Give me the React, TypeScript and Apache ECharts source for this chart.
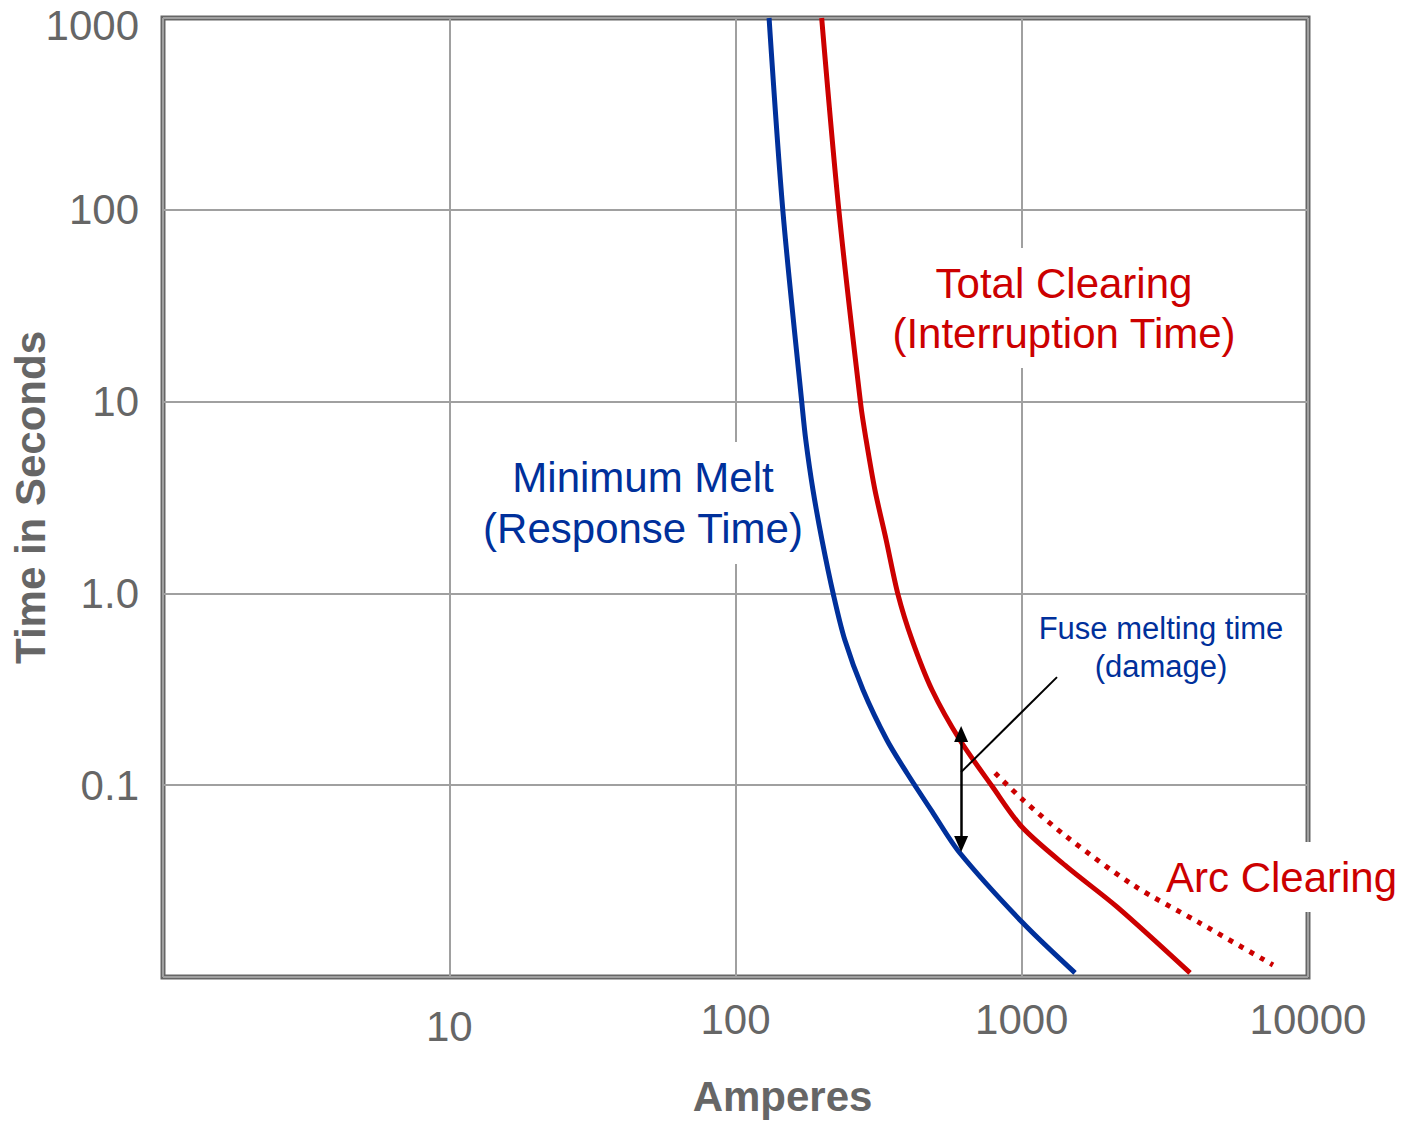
import React, { useEffect, useRef } from "react";
import * as echarts from "echarts";

// Minimum melt (response time) curve: current (A) and time (s)
const minMeltCurrent = [131, 146.5, 170.8, 176, 186.5, 200.5, 220, 241, 279, 338, 397, 490, 608, 1010, 1535];
const minMeltTime = [1000, 97.4, 9.6, 6.31, 3.46, 1.9, 0.98, 0.571, 0.3135, 0.172, 0.1158, 0.0716, 0.0443, 0.0191, 0.0105];

// Total clearing (interruption time) curve
const totalClearCurrent = [200, 230, 274, 286, 307, 336, 370, 414, 486, 608, 787, 1002, 1439, 2152, 3872];
const totalClearTime = [1000, 97.4, 9.6, 6.31, 3.46, 1.9, 0.98, 0.571, 0.3135, 0.172, 0.099, 0.0605, 0.0375, 0.0232, 0.0105];

// Arc clearing (dotted) curve
const arcCurrent = [807, 1010, 1439, 2447, 4195, 7546];
const arcTime = [0.1158, 0.0838, 0.0537, 0.0302, 0.0191, 0.01155];

// Fuse melting time (damage) arrow and leader
const damageArrowCurrent = [614, 614];
const damageArrowTime = [0.185, 0.0494];
const leaderCurrent = [614, 1328];
const leaderTime = [0.117, 0.366];

// Tick labels
const xTickLabels: Record<number, string> = { 0: "", 1: "10", 2: "100", 3: "1000", 4: "10000" };
const yTickLabels: Record<number, string> = { [-2]: "", [-1]: "0.1", 0: "1.0", 1: "10", 2: "100", 3: "1000" };

const RED = "#cc0000";
const BLUE = "#00309b";
const GREY = "#666666";
const GRIDLINE = "#a0a0a0";
const FONT = "'Liberation Sans', Arial, sans-serif";
const TICK_SIZE = 42;

const zip = (xs: number[], ys: number[]) => xs.map((x, i) => [x, ys[i]]);

export default function App() {
  const ref = useRef<HTMLDivElement>(null);
  useEffect(() => {
    if (!ref.current) return;
    const chart = echarts.init(ref.current, undefined, { renderer: "svg" });
    chart.setOption({
      animation: false,
      backgroundColor: "#fff",
      textStyle: { fontFamily: FONT },
      grid: {
        left: 163,
        right: 96,
        top: 18,
        bottom: 145,
        containLabel: false,
        outerBoundsMode: "none",
        show: true,
        borderColor: GREY,
        borderWidth: 5,
        backgroundColor: "transparent",
      },
      xAxis: {
        type: "log",
        logBase: 10,
        min: 1,
        max: 10000,
        splitNumber: 4,
        name: "Amperes",
        nameLocation: "middle",
        nameGap: 98,
        nameMoveOverlap: false,
        nameTextStyle: {
          color: GREY,
          fontSize: 42,
          fontWeight: "bold",
          fontFamily: FONT,
          padding: [0, 0, 0, 94],
        },
        axisLine: { show: false },
        axisTick: { show: false },
        splitLine: { show: true, lineStyle: { color: GRIDLINE, width: 2 } },
        axisLabel: {
          margin: 21,
          color: GREY,
          fontSize: TICK_SIZE,
          fontFamily: FONT,
          formatter: (v: number) => {
            const k = Math.round(Math.log10(v));
            const s = xTickLabels[k] ?? "";
            if (!s) return "";
            return k === 1 ? "{low|" + s + "}" : "{n|" + s + "}";
          },
          rich: {
            low: { color: GREY, fontSize: TICK_SIZE, fontFamily: FONT, padding: [7, 0, 0, 0] },
            n: { color: GREY, fontSize: TICK_SIZE, fontFamily: FONT },
          },
        },
      },
      yAxis: {
        type: "log",
        logBase: 10,
        min: 0.01,
        max: 1000,
        splitNumber: 5,
        name: "Time in Seconds",
        nameLocation: "middle",
        nameGap: 112,
        nameMoveOverlap: false,
        nameTextStyle: { color: GREY, fontSize: 42, fontWeight: "bold", fontFamily: FONT },
        axisLine: { show: false },
        axisTick: { show: false },
        splitLine: { show: true, lineStyle: { color: GRIDLINE, width: 2 } },
        axisLabel: {
          margin: 24,
          color: GREY,
          fontSize: TICK_SIZE,
          fontFamily: FONT,
          formatter: (v: number) => {
            const k = Math.round(Math.log10(v));
            const s = yTickLabels[k] ?? "";
            if (!s) return "";
            return k === 3 ? "{top|" + s + "}" : "{n|" + s + "}";
          },
          rich: {
            top: { color: GREY, fontSize: TICK_SIZE, fontFamily: FONT, padding: [14, 0, 0, 0] },
            n: { color: GREY, fontSize: TICK_SIZE, fontFamily: FONT },
          },
        },
      },
      graphic: [
        {
          type: "text",
          z: 1,
          x: 1064,
          y: 308,
          style: {
            text: "Total Clearing\n(Interruption Time)",
            fill: RED,
            font: "42px " + FONT,
            lineHeight: 50,
            align: "center",
            verticalAlign: "middle",
            backgroundColor: "#fff",
            padding: [10, 4, 10, 4],
          },
        },
        {
          type: "text",
          z: 1,
          x: 643,
          y: 503,
          style: {
            text: "Minimum Melt\n(Response Time)",
            fill: BLUE,
            font: "42px " + FONT,
            lineHeight: 51,
            align: "center",
            verticalAlign: "middle",
            backgroundColor: "#fff",
            padding: [10, 4, 10, 4],
          },
        },
        {
          type: "text",
          z: 1,
          x: 1161,
          y: 647,
          style: {
            text: "Fuse melting time\n(damage)",
            fill: BLUE,
            font: "31px " + FONT,
            lineHeight: 38,
            align: "center",
            verticalAlign: "middle",
          },
        },
        {
          type: "text",
          z: 1,
          x: 1164,
          y: 877,
          style: {
            text: "Arc Clearing",
            fill: RED,
            font: "42px " + FONT,
            align: "left",
            verticalAlign: "middle",
            backgroundColor: "#fff",
            padding: [14, 8, 14, 2],
          },
        },
      ],
      series: [
        {
          name: "Minimum Melt",
          type: "line",
          z: 3,
          smooth: 0.3,
          showSymbol: false,
          symbol: "none",
          silent: true,
          lineStyle: { color: BLUE, width: 5 },
          data: zip(minMeltCurrent, minMeltTime),
        },
        {
          name: "Total Clearing",
          type: "line",
          z: 3,
          smooth: 0.3,
          showSymbol: false,
          symbol: "none",
          silent: true,
          lineStyle: { color: RED, width: 5 },
          data: zip(totalClearCurrent, totalClearTime),
        },
        {
          name: "Arc Clearing",
          type: "line",
          z: 3,
          smooth: 0.3,
          showSymbol: false,
          symbol: "none",
          silent: true,
          lineStyle: { color: RED, width: 5, type: [5, 7], cap: "butt" },
          data: zip(arcCurrent, arcTime),
        },
        {
          name: "Damage",
          type: "line",
          z: 4,
          symbol: "none",
          silent: true,
          data: [],
          markLine: {
            silent: true,
            animation: false,
            label: { show: false },
            emphasis: { disabled: true },
            data: [
              [
                {
                  coord: [damageArrowCurrent[0], damageArrowTime[0]],
                  symbol: "triangle",
                  symbolSize: [14, 16],
                  lineStyle: { color: "#000", width: 2.5, type: "solid" },
                },
                {
                  coord: [damageArrowCurrent[1], damageArrowTime[1]],
                  symbol: "triangle",
                  symbolSize: [14, 16],
                },
              ],
              [
                {
                  coord: [leaderCurrent[0], leaderTime[0]],
                  symbol: "none",
                  lineStyle: { color: "#000", width: 2, type: "solid" },
                },
                { coord: [leaderCurrent[1], leaderTime[1]], symbol: "none" },
              ],
            ],
          },
        },
      ],
    });
    return () => chart.dispose();
  }, []);
  return (
    <div
      ref={ref}
      style={{ position: "absolute", left: 0, top: 0, width: 1404, height: 1122 }}
    />
  );
}
